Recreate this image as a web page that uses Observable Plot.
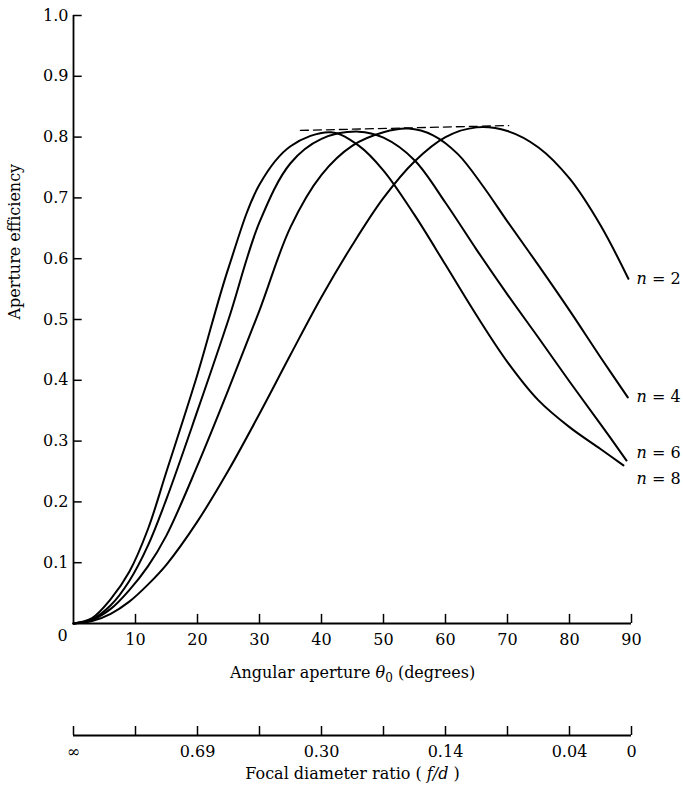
<!DOCTYPE html>
<html>
<head>
<meta charset="utf-8">
<script src="https://cdn.jsdelivr.net/npm/d3@7"></script>
<script src="https://cdn.jsdelivr.net/npm/@observablehq/plot@0.6"></script>
<style>
  html, body { margin: 0; padding: 0; background: #fff; }
  #chart svg { display: block; }
</style>
</head>
<body>
<div id="chart"></div>
<script>
// ---- tick values and labels ----
const yTicks = [0.1, 0.2, 0.3, 0.4, 0.5, 0.6, 0.7, 0.8, 0.9, 1.0];
const xTicks = [10, 20, 30, 40, 50, 60, 70, 80, 90];
const fdTickDeg = [0, 10, 20, 30, 40, 50, 60, 70, 80, 90];
const fdLabelDeg = [0, 20, 40, 60, 80, 90];
const fdLabels = ["∞", "0.69", "0.30", "0.14", "0.04", "0"];
const xTitle = "Angular aperture θ0 (degrees)";
const yTitle = "Aperture efficiency";
const fdTitle = "Focal diameter ratio (f/d)";

// ---- series (angular aperture in degrees, aperture efficiency) ----
const n2Deg = [0, 3, 6, 9, 12, 15, 20, 25, 30, 35, 40, 45, 50, 55, 60, 65, 70, 75, 80, 85, 89.5];
const n2Eff = [0, 0.004, 0.016, 0.036, 0.064, 0.097, 0.168, 0.252, 0.345, 0.442, 0.537, 0.623, 0.700, 0.760, 0.800, 0.816, 0.810, 0.783, 0.732, 0.655, 0.567];

const n4Deg = [0, 3, 6, 9, 12, 15, 20, 25, 30, 35, 40, 45, 50, 54, 58, 62, 66, 70, 75, 80, 85, 89.4];
const n4Eff = [0, 0.006, 0.024, 0.055, 0.094, 0.145, 0.26, 0.385, 0.515, 0.652, 0.738, 0.786, 0.808, 0.814, 0.803, 0.772, 0.72, 0.661, 0.589, 0.515, 0.438, 0.372];

const n6Deg = [0, 3, 6, 9, 12, 15, 20, 25, 30, 35, 40, 46, 50, 55, 60, 65, 70, 75, 80, 85, 89.2];
const n6Eff = [0, 0.007, 0.03, 0.07, 0.128, 0.205, 0.35, 0.5, 0.66, 0.757, 0.797, 0.809, 0.799, 0.762, 0.692, 0.615, 0.541, 0.47, 0.398, 0.328, 0.268];

const n8Deg = [0, 3, 6, 9, 12, 15, 20, 25, 30, 35, 41.5, 46, 50, 55, 60, 65, 70, 75, 80, 85, 88.7];
const n8Eff = [0, 0.009, 0.04, 0.085, 0.155, 0.25, 0.41, 0.585, 0.722, 0.785, 0.808, 0.786, 0.745, 0.672, 0.59, 0.507, 0.43, 0.367, 0.323, 0.287, 0.26];

const envelopeDeg = [36.6, 70.2];
const envelopeEff = [0.811, 0.819];

const seriesN = [2, 4, 6, 8];
const seriesDeg = [n2Deg, n4Deg, n6Deg, n8Deg];
const seriesEff = [n2Eff, n4Eff, n6Eff, n8Eff];

// ---- build tables ----
const curves = seriesN.flatMap((n, k) =>
  seriesDeg[k].map((deg, i) => ({n, deg, eff: seriesEff[k][i]})));
const ends = seriesN.map((n, k) => ({
  n,
  deg: seriesDeg[k][seriesDeg[k].length - 1],
  eff: seriesEff[k][seriesEff[k].length - 1]
}));
const envelope = envelopeDeg.map((deg, i) => ({deg, eff: envelopeEff[i]}));
const labelShift = {2: 0, 4: 0, 6: -8, 8: 13};

const font = "'DejaVu Serif', 'Liberation Serif', serif";
const baseStyle = {fontFamily: font, fontSize: "16px", background: "#fff", color: "#000", overflow: "visible"};

const main = Plot.plot({
  width: 683,
  height: 700,
  marginLeft: 73,
  marginRight: 52,
  marginTop: 15,
  marginBottom: 77,
  x: {domain: [0, 90]},
  y: {domain: [0, 1]},
  style: baseStyle,
  marks: [
    Plot.ruleX([0], {stroke: "#000", strokeWidth: 1.8}),
    Plot.ruleY([0], {stroke: "#000", strokeWidth: 1.8}),
    Plot.ruleX(xTicks, {x: d => d, y1: 0, y2: 0.015, stroke: "#000", strokeWidth: 1.5}),
    Plot.ruleY(yTicks, {y: d => d, x1: 0, x2: 1.4, stroke: "#000", strokeWidth: 1.5}),
    Plot.axisY({ticks: yTicks, tickSize: 0, tickPadding: 5, tickFormat: d3.format(".1f"), label: null}),
    Plot.axisX({ticks: xTicks, tickSize: 0, tickPadding: 10, tickFormat: d => String(d), label: null}),
    Plot.text(["0"], {frameAnchor: "bottom-left", dx: -16, dy: 17, text: d => d}),
    Plot.text([xTitle], {frameAnchor: "bottom", dy: 54, text: d => d}),
    Plot.text([yTitle], {frameAnchor: "left", dx: -59, rotate: -90, text: d => d}),
    Plot.line(envelope, {x: "deg", y: "eff", stroke: "#000", strokeWidth: 1.3, strokeDasharray: "8,5"}),
    Plot.line(curves, {x: "deg", y: "eff", z: "n", stroke: "#000", strokeWidth: 2, curve: "catmull-rom"}),
    ...ends.map(e => Plot.text([e], {
      x: "deg", y: "eff", text: d => `n = ${d.n}`,
      dx: 636 - 73 - e.deg * (631 - 73) / 90, dy: labelShift[e.n],
      textAnchor: "start"
    }))
  ]
});

const fd = Plot.plot({
  width: 683,
  height: 100,
  marginLeft: 73,
  marginRight: 52,
  marginTop: 26,
  marginBottom: 65,
  x: {domain: [0, 90]},
  y: {domain: [0, 1], axis: null},
  style: baseStyle,
  marks: [
    Plot.ruleY([0], {stroke: "#000", strokeWidth: 1.8}),
    Plot.ruleX(fdTickDeg, {x: d => d, y1: 0, y2: 1, stroke: "#000", strokeWidth: 1.5}),
    Plot.axisX({ticks: fdLabelDeg, tickSize: 0, tickPadding: 10,
      tickFormat: d => fdLabels[fdLabelDeg.indexOf(d)], label: null}),
    Plot.text([fdTitle], {frameAnchor: "bottom", dy: 43, text: d => d})
  ]
});

// typographic touches: italic n, italic θ with subscript 0, italic f/d
function decorate(svg) {
  svg.querySelectorAll("text").forEach(t => {
    const s = t.textContent;
    if (/^n = \d$/.test(s)) {
      t.innerHTML = `<tspan font-style="italic">n</tspan> = ${s.slice(4)}`;
    } else if (s === xTitle) {
      t.innerHTML = `Angular aperture <tspan font-style="italic">θ</tspan><tspan dy="4" font-size="12">0</tspan><tspan dy="-4"> (degrees)</tspan>`;
    } else if (s === fdTitle) {
      t.innerHTML = `Focal diameter ratio ( <tspan font-style="italic">f/d</tspan> )`;
    }
  });
}
decorate(main);
decorate(fd);

const root = document.getElementById("chart");
root.appendChild(main);
root.appendChild(fd);
</script>
</body>
</html>
